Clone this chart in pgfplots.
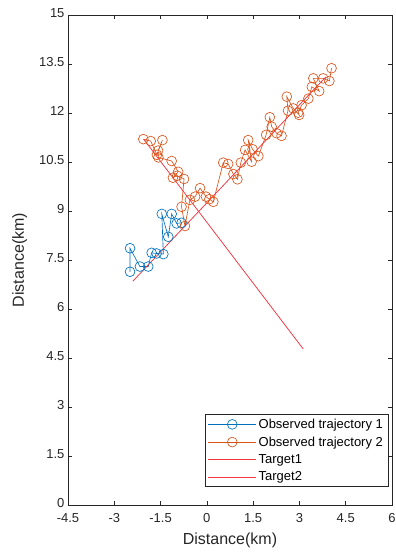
\documentclass[border=0pt]{standalone}
\usepackage{fontspec}
\setmainfont{Liberation Sans}
\usepackage{pgfplots}
\pgfplotsset{compat=1.18}
\definecolor{mblue}{rgb}{0,0.447,0.741}
\definecolor{morange}{rgb}{0.850,0.325,0.098}
\definecolor{mred}{rgb}{0.95,0.2,0.25}
\definecolor{maxis}{rgb}{0.15,0.15,0.15}
\begin{document}
\begin{tikzpicture}
\begin{axis}[
  scale only axis,
  width=324pt, height=490pt,
  xmin=-4.5, xmax=6, ymin=0, ymax=15,
  xtick={-4.5,-3,-1.5,0,1.5,3,4.5,6},
  ytick={0,1.5,3,4.5,6,7.5,9,10.5,12,13.5,15},
  /pgf/number format/assume math mode=true,
  /pgf/number format/fixed,
  tick align=inside,
  major tick length=4pt,
  axis line style={maxis, line width=0.6pt},
  every tick/.style={maxis, line width=0.6pt},
  tick label style={font=\fontsize{13}{15}\selectfont, text=maxis},
  xticklabel style={yshift=-5pt},
  yticklabel style={yshift=2pt},
  label style={font=\fontsize{16}{19}\selectfont, text=maxis},
  xlabel={Distance(km)},
  ylabel={Distance(km)},
  xlabel style={yshift=-3pt},
  ylabel style={yshift=5pt},
  legend style={at={(0.988,0.037)}, anchor=south east, draw=maxis,
    font=\fontsize{13}{16}\selectfont, row sep=2.8pt, inner xsep=3pt, inner ysep=2.5pt},
  legend cell align=left,
  legend image code/.code={%
    \draw[mark repeat=2,mark phase=2,#1] plot coordinates {(0pt,0pt) (24pt,0pt) (48pt,0pt)};},
]
\addplot[mblue, line width=0.65pt, mark=o, mark size=4.9pt, mark options={line width=0.65pt}] coordinates {
(-2.49,7.14) (-2.49,7.86) (-2.17,7.30) (-1.90,7.30) (-1.79,7.72) (-1.63,7.70)
(-1.41,7.68) (-1.46,8.91) (-1.25,8.21) (-1.14,8.91) (-0.98,8.62) (-0.82,8.64)
};
\addlegendentry{Observed trajectory 1}
\addplot[morange, line width=0.65pt, mark=o, mark size=4.9pt, mark options={line width=0.65pt}] coordinates {
(-2.06,11.20) (-1.82,11.14) (-1.62,10.72) (-1.44,11.17) (-1.58,10.85) (-1.57,10.64)
(-1.14,10.53) (-0.93,10.20) (-1.10,10.02) (-0.96,10.08) (-0.74,9.98) (-0.82,9.13)
(-0.71,8.54) (-0.55,9.34) (-0.38,9.44) (-0.22,9.70) (-0.03,9.44) (0.08,9.36)
(0.21,9.28) (0.53,10.48) (0.69,10.44) (0.86,10.13) (0.99,9.97) (1.10,10.48)
(1.24,10.87) (1.45,10.51) (1.34,11.17) (1.48,10.89) (1.67,10.68) (1.92,11.33)
(2.04,11.87) (2.10,11.58) (2.26,11.38) (2.42,11.30) (2.63,12.07) (2.59,12.50)
(2.80,12.14) (2.99,11.94) (2.96,12.01) (3.07,12.24) (3.29,12.44) (3.40,12.80)
(3.64,12.67) (3.45,13.06) (3.77,13.06) (3.97,12.98) (4.04,13.37)
};
\addlegendentry{Observed trajectory 2}
\addplot[mred, line width=0.75pt] coordinates {(-2.40,6.85) (3.85,13.10)};
\addlegendentry{Target1}
\addplot[mred, line width=0.75pt] coordinates {(-2.05,11.20) (3.12,4.78)};
\addlegendentry{Target2}
\end{axis}
\pgfresetboundingbox
\path[use as bounding box] ([xshift=-68pt,yshift=-53pt]current axis.south west) rectangle ([xshift=3pt,yshift=15pt]current axis.north east);
\end{tikzpicture}
\end{document}
